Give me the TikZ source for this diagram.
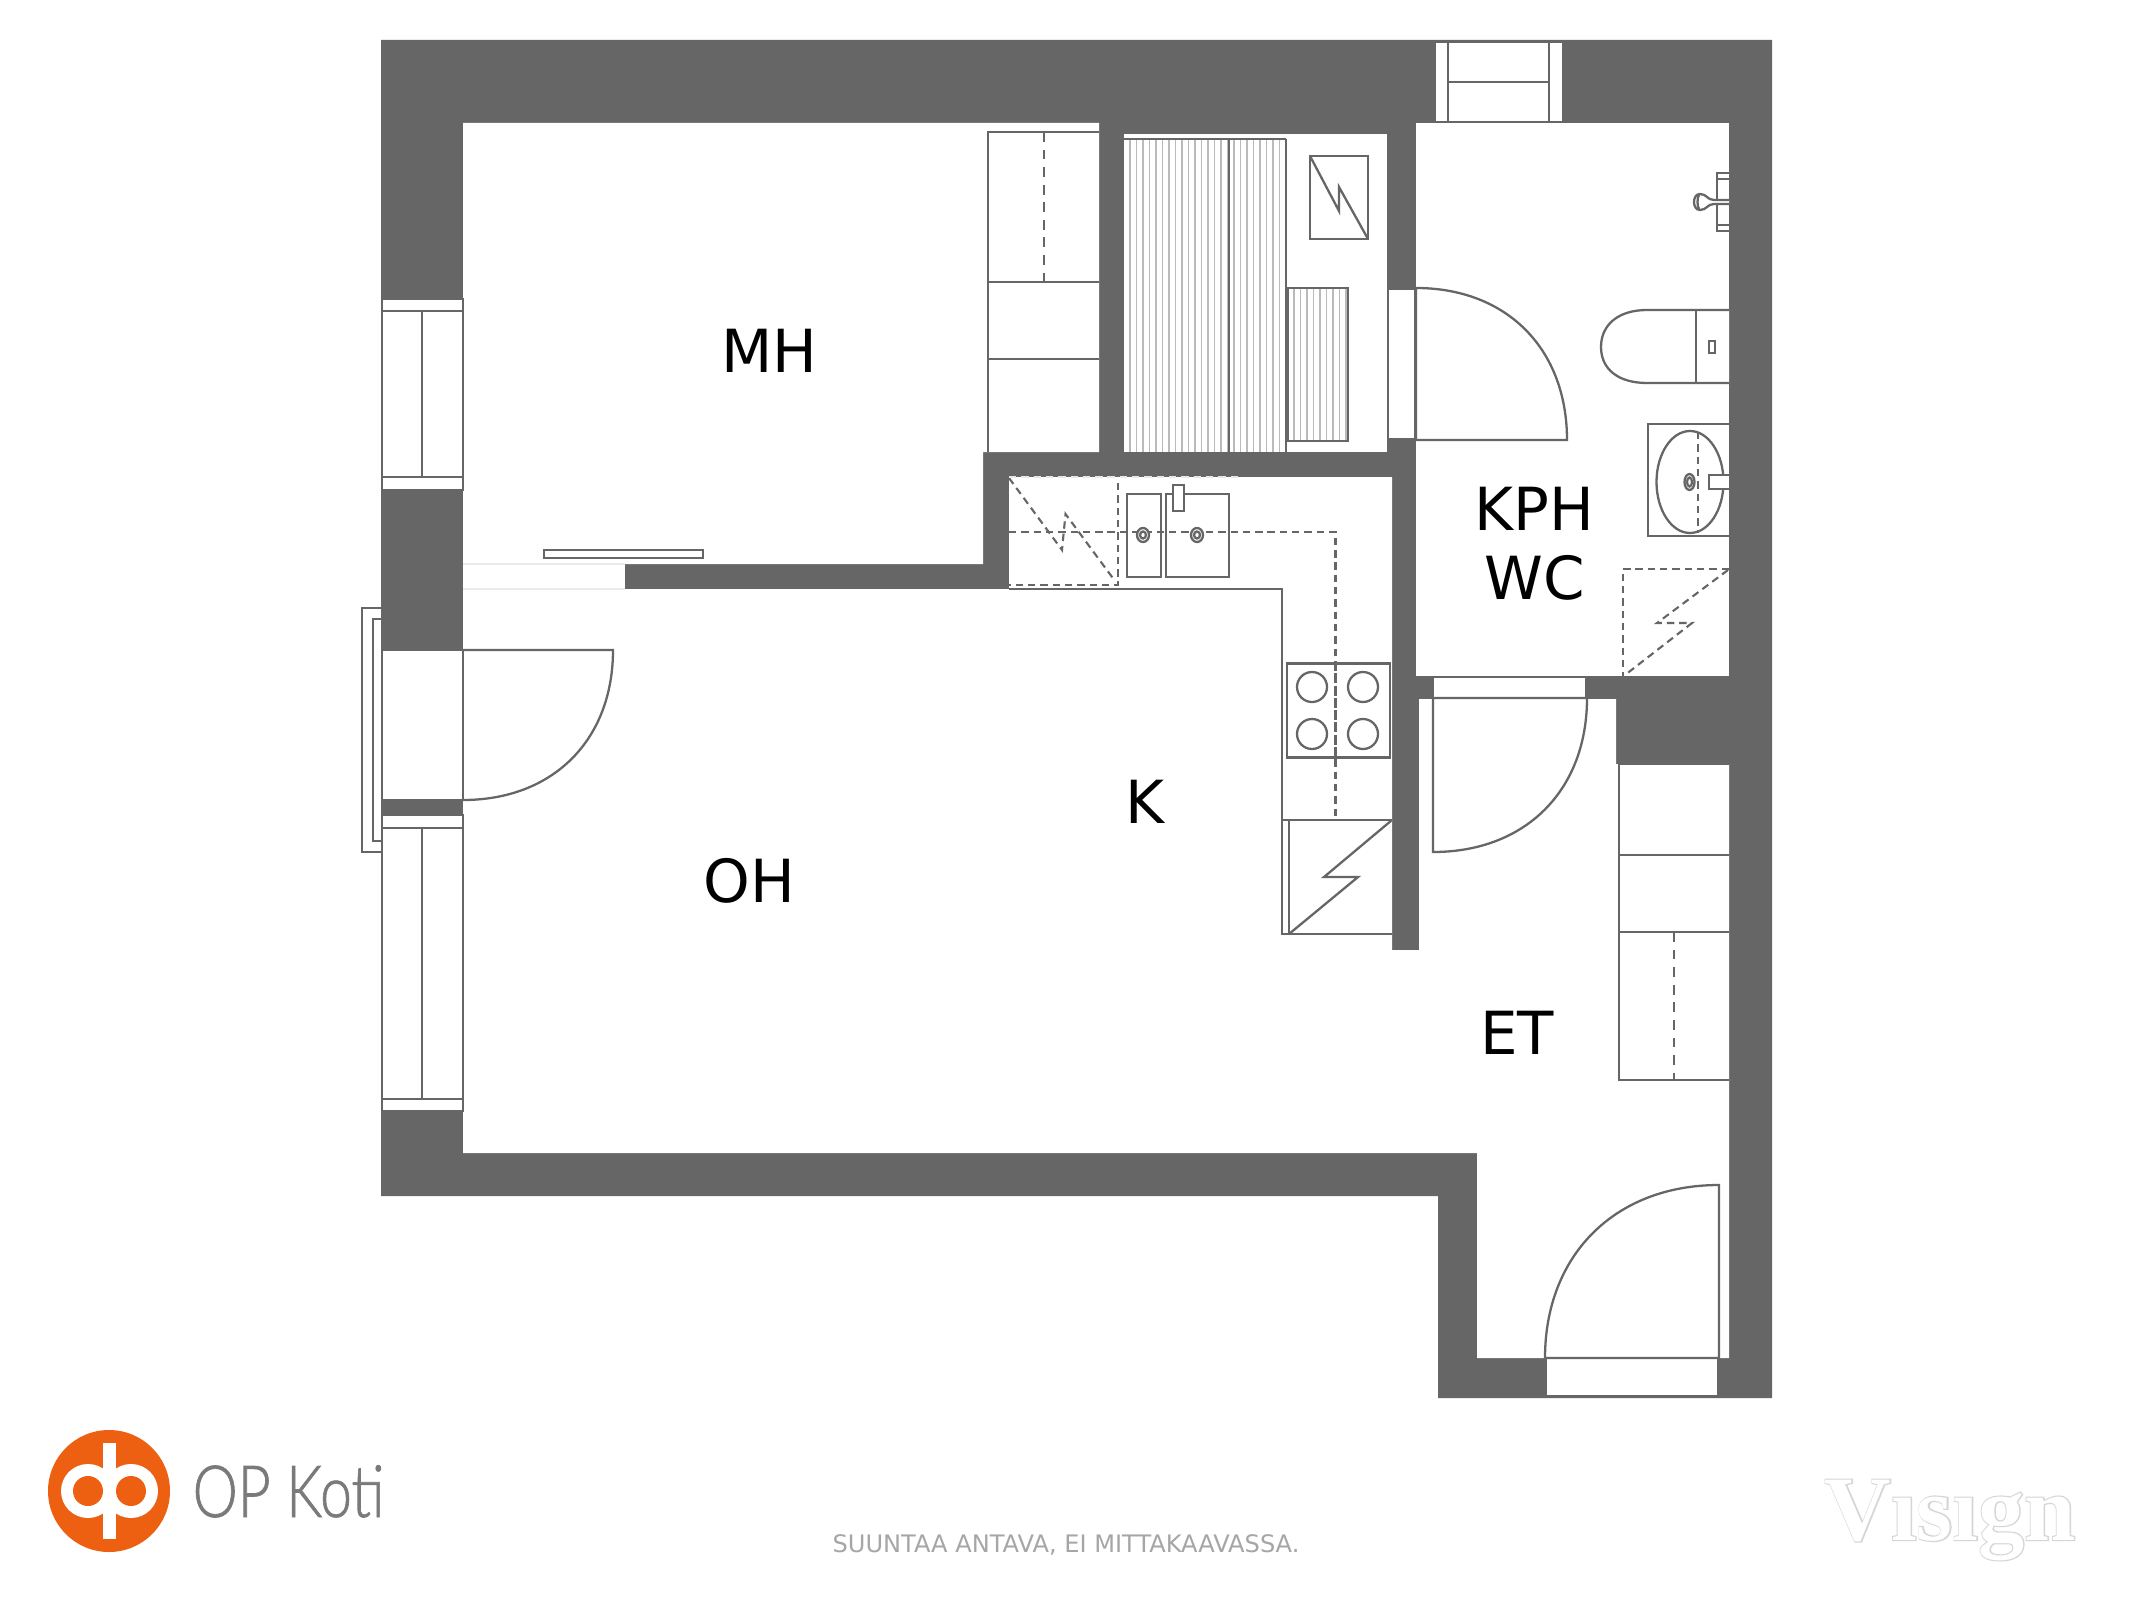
\documentclass[tikz,border=0pt]{standalone}
\usepackage{fontspec}
\setmainfont{DejaVu Sans}
\newfontfamily\kotifont[FakeStretch=0.79,FakeBold=0.9]{Lato Light}
\newfontfamily\visignbold[FakeBold=2.5]{Liberation Serif}[BoldFont={Liberation Serif Bold}]
\newfontfamily\visignplain{Liberation Serif}
\definecolor{wallc}{HTML}{666666}
\definecolor{oporange}{HTML}{EE6011}
\tikzset{
  wall/.style={fill=wallc,draw=none},
  room/.style={fill=white,draw=none},
  ln/.style={draw=wallc,line width=0.65pt},
  slat/.style={draw=wallc!45,line width=0.35pt},
  dsh/.style={draw=wallc,line width=0.6pt,dash pattern=on 2.1pt off 1.4pt},
  dshlong/.style={draw=wallc,line width=0.6pt,dash pattern=on 2.8pt off 2.2pt},
  roomlabel/.style={anchor=base,inner sep=0,text=black,font=\fontsize{16.9pt}{20pt}\selectfont},
}
\begin{document}
\begin{tikzpicture}[x=0.01cm,y=-0.01cm]
\useasboundingbox (0,0) rectangle (2133,1600);
\fill[white] (0,0) rectangle (2133,1600);
% walls
\path[wall] (381,40) -- (1772,40) -- (1772,1398) -- (1438,1398) -- (1438,1196) -- (381,1196) -- cycle;
% rooms
\path[room] (463,123) -- (1099,123) -- (1099,452) -- (983,452) -- (983,564) -- (463,564) -- cycle;
\path[room] (1124,134) rectangle (1387,452);
\path[room] (1416,123) rectangle (1729,676);
\path[room] (463,589) -- (1009,589) -- (1009,477) -- (1392,477) -- (1392,950) -- (1419,950) -- (1419,699) -- (1616,699) -- (1616,764) -- (1729,764) -- (1729,1358) -- (1477,1358) -- (1477,1153) -- (463,1153) -- cycle;
% openings
\path[room] (463,564) rectangle (625,589);
\draw[draw=black!8,line width=0.4pt] (463,564) -- (625,564) (463,589) -- (625,589);
% left window upper
\draw[ln,fill=white] (382,299) rectangle (463,490);
\draw[ln] (382,311) -- (463,311) (382,477) -- (463,477) (422,311) -- (422,477);
% left balcony door
\draw[ln,fill=white] (382,650) rectangle (463,800);
\draw[ln] (382,608) -- (362,608) -- (362,852) -- (382,852);
\draw[ln] (382,619) -- (373,619) -- (373,841) -- (382,841);
\draw[ln] (463,650) -- (613,650) .. controls (613,740) and (553,800) .. (463,800);
% left window lower
\draw[ln,fill=white] (382,815) rectangle (463,1111);
\draw[ln] (382,828) -- (463,828) (382,1099) -- (463,1099) (422,828) -- (422,1099);
% sliding door panel
\draw[ln,fill=white] (544,550) rectangle (703,558);
% top window
\draw[ln,fill=white] (1435,42) rectangle (1563,122);
\draw[ln] (1448,42) -- (1448,122) (1549,42) -- (1549,122) (1448,82) -- (1549,82);
% MH closets
\draw[ln] (1099,132) -- (988,132) -- (988,452) (988,282) -- (1099,282) (988,359) -- (1099,359);
\draw[dshlong] (1044,132) -- (1044,282);
% sauna benches
\foreach \xx in {1130,1136.5,...,1286} {\draw[slat] (\xx,139) -- (\xx,452);}
\draw[ln] (1124,139) -- (1286,139) (1229,139) -- (1229,452) (1286,139) -- (1286,452);
\foreach \xx in {1294,1300.5,...,1348} {\draw[slat] (\xx,288) -- (\xx,441);}
\draw[ln] (1288,288) rectangle (1348,441);
% sauna stove
\draw[ln] (1310,156) rectangle (1368,239);
\draw[ln] (1310,156) -- (1339,211) -- (1339,187) -- (1368,239);
% sauna door
\draw[ln,fill=white] (1388,289) rectangle (1415,439);
\draw[ln] (1416,288) -- (1416,440) -- (1567,440) .. controls (1567,349) and (1507,288) .. (1416,288);
% kitchen
\draw[ln] (1009,589) -- (1282,589) -- (1282,934) -- (1392,934);
\draw[ln] (1282,820) -- (1392,820) (1289,820) -- (1289,934);
\draw[ln] (1392,820) -- (1324,877) -- (1358,877) -- (1289,934);
\draw[dsh] (1009,532) -- (1335.5,532) -- (1335.5,820);
\draw[dsh] (1118,483) -- (1118,585) -- (1009,585);
\draw[dsh] (1009,478) -- (1062,550) -- (1065.5,514) -- (1115,581);
\draw[draw=wallc!15,line width=0.5pt,dash pattern=on 2.1pt off 1.4pt] (1009,477) -- (1240,477);
\draw[ln] (1127,494) rectangle (1161,577);
\draw[ln] (1166,494) rectangle (1229,577);
\draw[ln,fill=white] (1173,485) rectangle (1184,511);
\foreach \xx in {1143,1197} {
  \draw[ln,fill=white] (\xx,535) ellipse [x radius=6,y radius=7];
  \draw[ln] (\xx,535) ellipse [x radius=3,y radius=3.5];
}
% stove
\draw[ln] (1287,663.5) rectangle (1390,757.5);
\draw[dsh] (1335.5,663.5) -- (1335.5,757.5);
\foreach \xx in {1312,1363} {\foreach \yy in {687,734} {\draw[ln] (\xx,\yy) ellipse [x radius=15,y radius=15];}}
% KPH door
\draw[ln,fill=white] (1433,677) rectangle (1586,698);
\draw[ln] (1433,698) -- (1433,852) .. controls (1525,852) and (1587,791) .. (1587,698) -- cycle;
% ET closets
\draw[ln] (1729,764) -- (1619,764) -- (1619,1080) -- (1729,1080) (1619,855) -- (1729,855) (1619,932) -- (1729,932);
\draw[dshlong] (1674,932) -- (1674,1080);
% entry door
\draw[ln,fill=white] (1546,1358) rectangle (1718,1396);
\draw[ln] (1545,1358) -- (1719,1358) -- (1719,1185) .. controls (1615,1185) and (1545,1255) .. (1545,1358);
% bathroom: shower fixture
\draw[ln] (1729,173) -- (1717,173) -- (1717,231) -- (1729,231) (1717,179) -- (1729,179) (1717,225) -- (1729,225);
\draw[ln,fill=white] (1729,200) -- (1714,200) .. controls (1707,200) and (1707,194) .. (1700,194) .. controls (1696,194) and (1694,198) .. (1694,202) .. controls (1694,206) and (1696,210) .. (1700,210) .. controls (1707,210) and (1707,204) .. (1714,204) -- (1729,204);
\draw[ln] (1699,195) .. controls (1697,198) and (1697,206) .. (1699,209);
% toilet
\draw[ln,fill=white] (1729,310) -- (1647,310) .. controls (1618,310) and (1601,325) .. (1601,347) .. controls (1601,369) and (1618,383) .. (1647,383) -- (1729,383);
\draw[ln] (1696,310) -- (1696,383);
\draw[ln] (1709,341) rectangle (1715,353);
% wash basin
\draw[ln] (1729,424) -- (1648,424) -- (1648,536) -- (1729,536);
\draw[ln] (1690,482) ellipse [x radius=33.5,y radius=51];
\draw[dsh] (1698,432) -- (1698,533);
\draw[ln] (1689.5,482) ellipse [x radius=5,y radius=8];
\draw[ln] (1689.5,482) ellipse [x radius=2.5,y radius=4.5];
\draw[ln,fill=white] (1729,475) -- (1709,475) -- (1709,489) -- (1729,489);
% shower area
\draw[dsh] (1729,569) -- (1623,569) -- (1623,676);
\draw[dsh] (1728,570) -- (1657,623) -- (1692,623) -- (1625,675);
% labels
\node[roomlabel] (mh) at (769,373) {MH};
\node[roomlabel] (kph) at (1534,530) {KPH};
\node[roomlabel] (wc) at (1535,599) {WC};
\node[roomlabel] (k) at (1145,823) {K};
\node[roomlabel] (oh) at (749,902) {OH};
\node[roomlabel] (et) at (1517,1054) {ET};
\node[anchor=center,inner sep=0,text=black!35,font=\fontsize{6.85pt}{8pt}\selectfont] (note) at (1066,1545) {SUUNTAA ANTAVA, EI MITTAKAAVASSA.};
% logo
\fill[oporange] (109,1491) circle [radius=61];
\fill[white] (88,1491) circle [radius=27] (131,1491) circle [radius=27];
\fill[white] (88,1478) rectangle (131,1504);
\fill[oporange] (88,1491) circle [radius=15] (131,1491) circle [radius=15];
\fill[white] (103,1443) rectangle (116,1539);
\node[anchor=base west,inner sep=0,text=black!52,font=\kotifont\fontsize{20.5pt}{24pt}\selectfont] (opkoti) at (192,1517) {OP Koti};
% watermark
\node[anchor=base west,inner sep=0,font=\fontsize{26.2pt}{30pt}\selectfont] (visign) at (1824,1540) {\rlap{\color{black!16}\visignbold\bfseries Vısıgn}\color{white}\visignplain\bfseries Vısıgn};
\end{tikzpicture}
\end{document}
